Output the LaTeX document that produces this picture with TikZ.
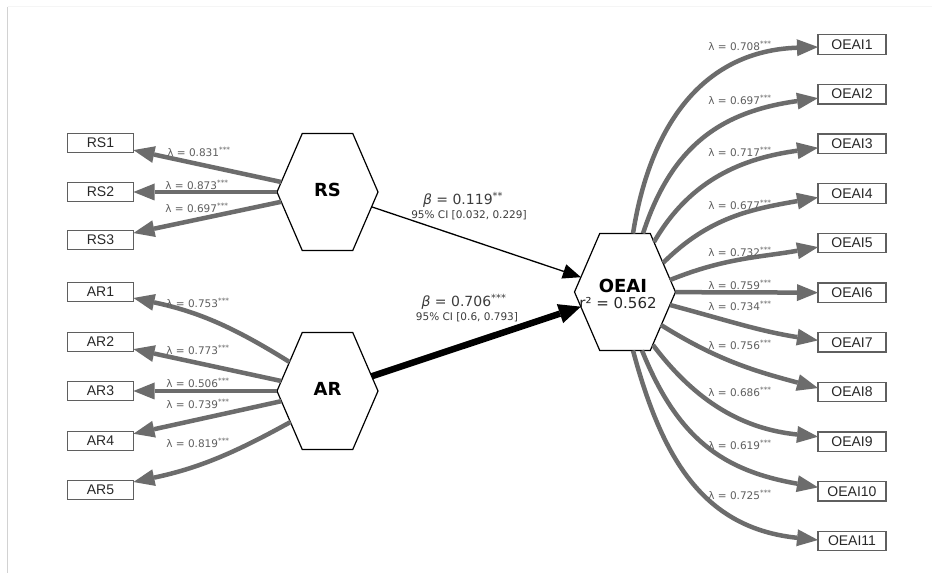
\documentclass[tikz,border=0pt]{standalone}
\usepackage{fontspec}
\setmainfont{DejaVu Sans}
\newfontfamily\boxfont{Liberation Sans}
\usetikzlibrary{shapes.geometric,arrows.meta}
\definecolor{arrgray}{RGB}{108,108,108}
\definecolor{boxgray}{RGB}{95,95,95}
\definecolor{textdark}{RGB}{40,40,40}
\definecolor{labgray}{RGB}{95,95,95}
\definecolor{betagray}{RGB}{60,60,60}
\tikzset{
  hexa/.style={regular polygon, regular polygon sides=6, draw=black, line width=1.2pt,
    minimum size=135.1pt, inner sep=0pt, outer sep=0pt, fill=white},
  latlab/.style={font=\bfseries\fontsize{18}{20}\selectfont, text=black, inner sep=0pt},
  ind/.style={draw=boxgray, line width=1.3pt, fill=white, minimum width=66pt,
    minimum height=19.5pt, inner sep=0pt, outer sep=0pt,
    font=\boxfont\fontsize{14}{15}\selectfont, text=textdark},
  load/.style={draw=arrgray, line width=4.5pt,
    -{Triangle[length=21pt,width=17pt,line width=0pt]}},
  lam/.style={font=\fontsize{10.5}{11}\selectfont, text=labgray, inner sep=0pt},
  beta/.style={font=\fontsize{14}{15}\selectfont, text=betagray, inner sep=0pt},
  ci/.style={font=\fontsize{10.5}{11}\selectfont, text=betagray, inner sep=0pt},
  path1/.style={draw=black, line width=1.3pt, -{Triangle[length=18pt,width=15pt,line width=0pt]}},
  path2/.style={draw=black, line width=6.5pt, -{Triangle[length=22pt,width=20pt,line width=0pt]}},
}
\begin{document}
\begin{tikzpicture}[x=1pt,y=1pt]
\useasboundingbox[fill=white] (0,0) rectangle (932,573);
\draw[gray!35, line width=1.2pt] (7.5,566) -- (7.5,0);
\draw[gray!8, line width=1pt] (7.5,566) -- (932,566);

% latent variables
\begin{scope}[shift={(327.5,381)},xscale=0.7476]
  \node[hexa,transform shape] (rs) at (0,0) {};
\end{scope}
\begin{scope}[shift={(327.5,182)},xscale=0.7476]
  \node[hexa,transform shape] (ar) at (0,0) {};
\end{scope}
\begin{scope}[shift={(625,281)},xscale=0.7476]
  \node[hexa,transform shape] (oeai) at (0,0) {};
\end{scope}
\node[latlab] (rslab) at (327.5,383) {RS};
\node[latlab] (arlab) at (327.5,184) {AR};
\node[latlab] (oeailab) at (623,287) {OEAI};
\node[font=\fontsize{15}{16}\selectfont, text=textdark, inner sep=0pt] (r2lab) at (618,270) {r² = 0.562};

% indicators left
\node[ind] (rs1) at (100.5,430) {RS1};
\node[ind] (rs2) at (100.5,381) {RS2};
\node[ind] (rs3) at (100.5,333) {RS3};
\node[ind] (ar1) at (100.5,281) {AR1};
\node[ind] (ar2) at (100.5,231) {AR2};
\node[ind] (ar3) at (100.5,182) {AR3};
\node[ind] (ar4) at (100.5,132) {AR4};
\node[ind] (ar5) at (100.5,83) {AR5};

% indicators right
\node[ind,minimum width=68pt] (o1) at (852,528.5) {OEAI1};
\node[ind,minimum width=68pt] (o2) at (852,478.85) {OEAI2};
\node[ind,minimum width=68pt] (o3) at (852,429.2) {OEAI3};
\node[ind,minimum width=68pt] (o4) at (852,379.55) {OEAI4};
\node[ind,minimum width=68pt] (o5) at (852,329.9) {OEAI5};
\node[ind,minimum width=68pt] (o6) at (852,280.25) {OEAI6};
\node[ind,minimum width=68pt] (o7) at (852,230.6) {OEAI7};
\node[ind,minimum width=68pt] (o8) at (852,180.95) {OEAI8};
\node[ind,minimum width=68pt] (o9) at (852,131.3) {OEAI9};
\node[ind,minimum width=68pt] (o10) at (852,81.65) {OEAI10};
\node[ind,minimum width=68pt] (o11) at (852,32) {OEAI11};

% left loadings
\draw[load] (rs) -- (rs1);
\draw[load] (rs) -- (rs2);
\draw[load] (rs) -- (rs3);
\draw[load] ([shift={(-38,29)}]ar.center) to[out=148,in=-12] ([yshift=-6pt]ar1.east);
\draw[load] (ar) -- (ar2);
\draw[load] (ar) -- (ar3);
\draw[load] (ar) -- (ar4);
\draw[load] ([shift={(-37,-31)}]ar.center) to[out=209,in=12] ([yshift=8pt]ar5.east);

% right loadings
\draw[load] ([shift={(8,58.5)}]oeai.center) to[out=81,in=182,looseness=1.1] ([yshift=-2.5pt]o1.west);
\draw[load] ([shift={(18,58.5)}]oeai.center) to[out=72,in=188,looseness=1.1] ([yshift=-4pt]o2.west);
\draw[load] ([shift={(29,50)}]oeai.center) to[out=60,in=188] ([yshift=-4pt]o3.west);
\draw[load] ([shift={(38,29)}]oeai.center) to[out=45,in=190] ([yshift=-4pt]o4.west);
\draw[load] ([shift={(45,12)}]oeai.center) to[out=22,in=190] ([yshift=-4pt]o5.west);
\draw[load] (oeai) -- (o6);
\draw[load] ([shift={(45,-13)}]oeai.center) to[out=-15,in=171] ([yshift=2pt]o7.west);
\draw[load] ([shift={(36,-33)}]oeai.center) to[out=-32,in=165] ([yshift=4pt]o8.west);
\draw[load] ([shift={(28,-53)}]oeai.center) to[out=-53,in=174] ([yshift=5pt]o9.west);
\draw[load] ([shift={(17,-58.5)}]oeai.center) to[out=-68,in=170,looseness=1.1] ([yshift=4pt]o10.west);
\draw[load] ([shift={(8,-58.5)}]oeai.center) to[out=-75,in=174,looseness=1.1] ([yshift=1pt]o11.west);

% structural paths
\draw[path1] (rs) -- (oeai);
\draw[path2] (ar) -- (oeai);

% loading labels left
\node[lam] (lrs1) at (199,421) {λ = 0.831\textsuperscript{***}};
\node[lam] (lrs2) at (197,388) {λ = 0.873\textsuperscript{***}};
\node[lam] (lrs3) at (197,365) {λ = 0.697\textsuperscript{***}};
\node[lam] (lar1) at (198,270) {λ = 0.753\textsuperscript{***}};
\node[lam] (lar2) at (198,223) {λ = 0.773\textsuperscript{***}};
\node[lam] (lar3) at (198,190) {λ = 0.506\textsuperscript{***}};
\node[lam] (lar4) at (198,169) {λ = 0.739\textsuperscript{***}};
\node[lam] (lar5) at (198,130) {λ = 0.819\textsuperscript{***}};

% loading labels right
\node[lam] (lo1) at (740,527) {λ = 0.708\textsuperscript{***}};
\node[lam] (lo2) at (740,473) {λ = 0.697\textsuperscript{***}};
\node[lam] (lo3) at (740,421) {λ = 0.717\textsuperscript{***}};
\node[lam] (lo4) at (740,368) {λ = 0.677\textsuperscript{***}};
\node[lam] (lo5) at (740,321) {λ = 0.732\textsuperscript{***}};
\node[lam] (lo6) at (740,288) {λ = 0.759\textsuperscript{***}};
\node[lam] (lo7) at (740,267) {λ = 0.734\textsuperscript{***}};
\node[lam] (lo8) at (740,228) {λ = 0.756\textsuperscript{***}};
\node[lam] (lo9) at (740,181) {λ = 0.686\textsuperscript{***}};
\node[lam] (lo10) at (740,128) {λ = 0.619\textsuperscript{***}};
\node[lam] (lo11) at (740,78) {λ = 0.725\textsuperscript{***}};

% path labels
\node[beta] (b1) at (463,373) {\textit{β} = 0.119\textsuperscript{**}};
\node[ci] (c1) at (469,358) {95\% CI [0.032, 0.229]};
\node[beta] (b2) at (464,271) {\textit{β} = 0.706\textsuperscript{***}};
\node[ci] (c2) at (467,256) {95\% CI [0.6, 0.793]};
\end{tikzpicture}
\end{document}
